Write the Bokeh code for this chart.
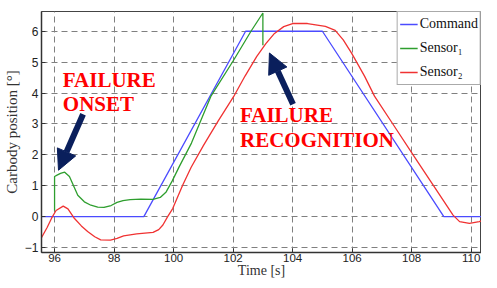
from bokeh.plotting import figure
from bokeh.models import (Legend, LegendItem, Label, Arrow, NormalHead,
                          SingleIntervalTicker, Range1d)
from bokeh.embed import file_html
from bokeh.resources import INLINE

# ---- data ----
cmd_t = [95.5, 99.0, 102.42, 105.0, 109.08, 110.7]
cmd_v = [0.0, 0.0, 6.0, 6.0, 0.0, 0.0]

s1_t = [96.0, 96.0, 96.1, 96.2, 96.34, 96.5, 96.78, 97.0, 97.22, 97.45, 97.66,
        97.9, 98.1, 98.3, 98.54, 98.9, 99.31, 99.55, 99.75, 99.95, 100.19,
        100.6, 101.25, 102.02, 102.6, 103.0, 103.0]
s1_v = [0.2, 1.3, 1.35, 1.4, 1.44, 1.3, 0.69, 0.48, 0.37, 0.31, 0.30,
        0.36, 0.46, 0.52, 0.55, 0.57, 0.56, 0.62, 0.80, 1.15, 1.62,
        2.38, 3.89, 5.07, 6.0, 6.59, 5.55]

s2_t = [95.55, 95.75, 95.9, 96.05, 96.29, 96.45, 96.67, 96.9, 97.11, 97.35,
        97.55, 97.88, 98.1, 98.32, 98.76, 99.31, 99.5, 99.64, 99.8, 99.97,
        100.3, 100.59, 101.0, 101.5, 102.02, 102.4, 102.79, 103.1, 103.39,
        103.7, 104.0, 104.5, 105.1, 105.43, 105.7, 105.98, 106.42, 106.75,
        107.4, 108.07, 108.7, 109.39, 109.61, 109.94, 110.27, 110.6]
s2_v = [-0.70, -0.35, -0.05, 0.20, 0.34, 0.25, -0.06, -0.30, -0.48, -0.65,
        -0.75, -0.76, -0.70, -0.62, -0.56, -0.51, -0.42, -0.27, 0.0, 0.26,
        1.01, 1.6, 2.3, 3.1, 3.89, 4.55, 5.18, 5.6, 5.93,
        6.15, 6.25, 6.25, 6.16, 6.03, 5.72, 5.29, 4.54, 3.9,
        2.95, 1.97, 1.05, 0.05, -0.16, -0.22, -0.16, -0.06]

series_names = ["Command", "Sensor\u2081", "Sensor\u2082"]
series_colors = ["#4b4bff", "#2e9e2e", "#f03232"]

x_lo, x_hi = 95.561, 110.346
y_lo, y_hi = -1.16, 6.639

SERIF = "Liberation Serif"
SERIF_Q = '"Liberation Serif"'
SANS = "Liberation Sans"

p = figure(width=481, height=280, output_backend="svg", toolbar_location=None,
           x_range=Range1d(x_lo, x_hi), y_range=Range1d(y_lo, y_hi),
           min_border_left=33, min_border_right=0, min_border_top=11,
           min_border_bottom=25)
p.background_fill_color = "white"
p.border_fill_color = "white"
p.outline_line_color = "#444444"
p.outline_line_width = 1

p.xaxis.ticker = SingleIntervalTicker(interval=2, num_minor_ticks=0)
p.yaxis.ticker = SingleIntervalTicker(interval=1, num_minor_ticks=0)
for ax in (p.xaxis, p.yaxis):
    ax.axis_line_color = "#333333"
    ax.axis_line_width = 1.5
    ax.major_tick_in = 4
    ax.major_tick_out = 0
    ax.major_tick_line_color = "#333333"
    ax.minor_tick_line_color = None
    ax.major_label_text_font = SANS
    ax.major_label_text_color = "#222222"
p.xaxis.major_label_text_font_size = "11.5px"
p.yaxis.major_label_text_font_size = "12px"
p.xaxis.major_label_standoff = 1
p.yaxis.major_label_standoff = 3
p.xaxis.axis_label = "Time [s]"
p.xaxis.axis_label_text_font = SERIF
p.xaxis.axis_label_text_font_style = "normal"
p.xaxis.axis_label_text_font_size = "14px"
p.xaxis.axis_label_text_color = "#333333"
p.xaxis.axis_label_standoff = -2
p.yaxis.axis_label = "Carbody position [\u00b0]"
p.yaxis.axis_label_text_font = SERIF
p.yaxis.axis_label_text_font_style = "normal"
p.yaxis.axis_label_text_font_size = "15px"
p.yaxis.axis_label_text_color = "#333333"
p.yaxis.axis_label_standoff = 2

for g in (p.xgrid, p.ygrid):
    g.grid_line_color = "#808080"
    g.grid_line_dash = "6 4"
    g.grid_line_width = 1

r_cmd = p.line(cmd_t, cmd_v, line_color=series_colors[0], line_width=1.3)
r_s1 = p.line(s1_t, s1_v, line_color=series_colors[1], line_width=1.3)
r_s2 = p.line(s2_t, s2_v, line_color=series_colors[2], line_width=1.3)

legend = Legend(items=[LegendItem(label=series_names[0], renderers=[r_cmd]),
                       LegendItem(label=series_names[1], renderers=[r_s1]),
                       LegendItem(label=series_names[2], renderers=[r_s2])],
                location="top_right", margin=0, padding=2, spacing=4,
                glyph_width=18, glyph_height=20, label_height=20,
                label_standoff=2, label_text_font=SERIF,
                label_text_font_size="14px", label_text_color="#111111",
                border_line_color="#555555", border_line_width=1,
                background_fill_color="white", background_fill_alpha=1)
p.add_layout(legend)

# annotations
red = "#ff0000"
for txt, x, y in [("FAILURE", 96.277, 4.41), ("ONSET", 96.277, 3.645),
                  ("FAILURE", 102.23, 3.284), ("RECOGNITION", 102.23, 2.485)]:
    p.add_layout(Label(x=x, y=y, text=txt, text_font=SERIF_Q,
                       text_font_style="bold", text_font_size="21px",
                       text_color=red, text_baseline="alphabetic",
                       text_align="left"))

navy = "#0a1f5c"
for xs, ys, xe, ye in [(96.957, 3.315, 96.132, 1.503),
                       (104.013, 3.635, 103.22, 5.297)]:
    p.add_layout(Arrow(end=NormalHead(size=20, fill_color=navy, line_color=navy),
                       x_start=xs, y_start=ys, x_end=xe, y_end=ye,
                       line_color=navy, line_width=6))

open("out.html", "w").write(file_html(p, INLINE))
